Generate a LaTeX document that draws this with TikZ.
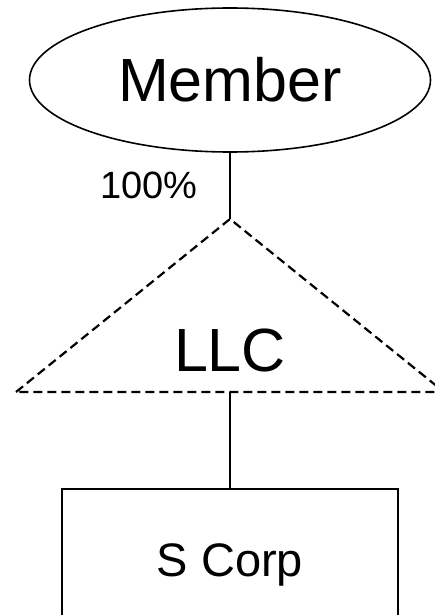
\documentclass[tikz,border=0pt]{standalone}
\usepackage{fontspec}
\setmainfont{Liberation Sans}
\usetikzlibrary{positioning,shapes.geometric}

\tikzset{
  bigtext/.style={font=\fontsize{61}{70}\selectfont},
  link/.style={draw,line width=2.6pt},
  llcedge/.style={draw,line width=2.2pt,dash pattern=on 9pt off 5pt}
}

\begin{document}
\begin{tikzpicture}[x=1pt,y=-1pt]
\useasboundingbox (0,0) rectangle (434,615);

\node[draw, ellipse, line width=1.6pt, minimum width=401pt, minimum height=144pt, bigtext] (member) at (230,80) {Member};

\coordinate (llctop) at (230,219);
\coordinate (llcleft) at (16,392);
\coordinate (llcright) at (444,392);
\coordinate (llcbase) at (230,392);
\path[llcedge] (llcleft) -- (llctop) -- (llcright) -- cycle;
\node[bigtext] (llc) at (230,350) {LLC};

\node[draw, line width=2.6pt, minimum width=336pt, minimum height=152pt, font=\fontsize{47}{56}\selectfont] (scorp) at (230,565) {S Corp};

\path[link] (member.south) -- node[left=31pt, inner sep=0pt, font=\fontsize{38}{45}\selectfont] (share) {100\%} (llctop);
\path[link] (llcbase) -- (scorp.north);
\end{tikzpicture}
\end{document}
